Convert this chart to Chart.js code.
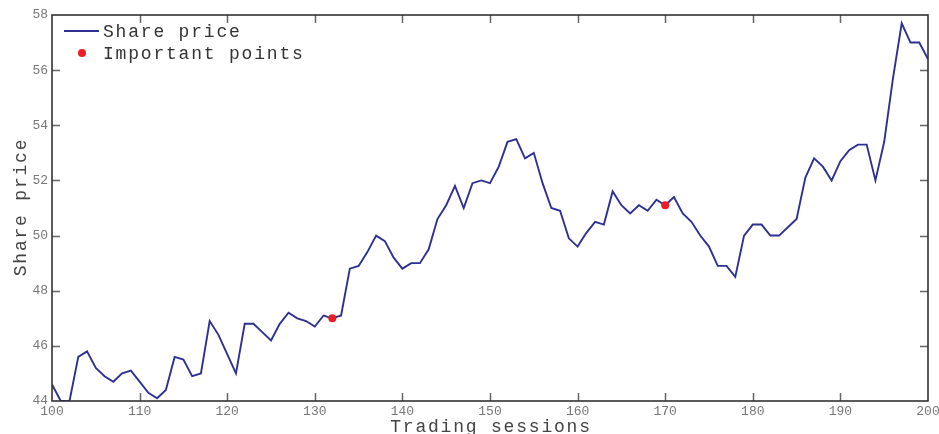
<!DOCTYPE html>
<html>
<head>
<meta charset="utf-8">
<script src="https://cdn.jsdelivr.net/npm/chart.js@4/dist/chart.umd.min.js"></script>
<style>
  html, body { margin: 0; padding: 0; background: #fff; }
  #wrap { width: 939px; height: 434px; overflow: hidden; }
  canvas { display: block; }
</style>
</head>
<body>
<div id="wrap"><canvas id="chart" width="939" height="434"></canvas></div>
<script>
// Trading session numbers and closing share prices
const sessions = [
  100, 101, 102, 103, 104, 105, 106, 107, 108, 109,
  110, 111, 112, 113, 114, 115, 116, 117, 118, 119,
  120, 121, 122, 123, 124, 125, 126, 127, 128, 129,
  130, 131, 132, 133, 134, 135, 136, 137, 138, 139,
  140, 141, 142, 143, 144, 145, 146, 147, 148, 149,
  150, 151, 152, 153, 154, 155, 156, 157, 158, 159,
  160, 161, 162, 163, 164, 165, 166, 167, 168, 169,
  170, 171, 172, 173, 174, 175, 176, 177, 178, 179,
  180, 181, 182, 183, 184, 185, 186, 187, 188, 189,
  190, 191, 192, 193, 194, 195, 196, 197, 198, 199,
  200
];
const prices = [
  44.6, 44.0, 44.0, 45.6, 45.8, 45.2, 44.9, 44.7, 45.0, 45.1,
  44.7, 44.3, 44.1, 44.4, 45.6, 45.5, 44.9, 45.0, 46.9, 46.4,
  45.7, 45.0, 46.8, 46.8, 46.5, 46.2, 46.8, 47.2, 47.0, 46.9,
  46.7, 47.1, 47.0, 47.1, 48.8, 48.9, 49.4, 50.0, 49.8, 49.2,
  48.8, 49.0, 49.0, 49.5, 50.6, 51.1, 51.8, 51.0, 51.9, 52.0,
  51.9, 52.5, 53.4, 53.5, 52.8, 53.0, 51.9, 51.0, 50.9, 49.9,
  49.6, 50.1, 50.5, 50.4, 51.6, 51.1, 50.8, 51.1, 50.9, 51.3,
  51.1, 51.4, 50.8, 50.5, 50.0, 49.6, 48.9, 48.9, 48.5, 50.0,
  50.4, 50.4, 50.0, 50.0, 50.3, 50.6, 52.1, 52.8, 52.5, 52.0,
  52.7, 53.1, 53.3, 53.3, 52.0, 53.4, 55.7, 57.7, 57.0, 57.0,
  56.4
];
// Sessions flagged as important, with their prices
const keySessions = [132, 170];
const keyPrices = [47.0, 51.1];

const xTicks = [100, 110, 120, 130, 140, 150, 160, 170, 180, 190, 200];
const yTicks = [44, 46, 48, 50, 52, 54, 56, 58];

const xTitle = 'Trading sessions';
const yTitle = 'Share price';

const LINE_COLOR = '#2e3192';
const DOT_COLOR = '#ee1c25';
const FONT = '"Liberation Mono", "DejaVu Sans Mono", monospace';
const TEXT_FONT = '18px ' + FONT;
const TEXT_SPACING = '1.8px';

// Box frame with inward tick marks on all four sides
const framePlugin = {
  id: 'frame',
  afterDraw(chart) {
    const { ctx, chartArea: a, scales: { x, y } } = chart;
    const len = 8;
    ctx.save();
    ctx.strokeStyle = '#666';
    ctx.lineWidth = 1.5;
    ctx.beginPath();
    xTicks.slice(1, -1).forEach(v => {
      const px = Math.round(x.getPixelForValue(v)) + 0.5;
      ctx.moveTo(px, a.bottom); ctx.lineTo(px, a.bottom - len);
      ctx.moveTo(px, a.top); ctx.lineTo(px, a.top + len);
    });
    yTicks.slice(1, -1).forEach(v => {
      const py = Math.round(y.getPixelForValue(v)) + 0.5;
      ctx.moveTo(a.left, py); ctx.lineTo(a.left + len, py);
      ctx.moveTo(a.right, py); ctx.lineTo(a.right - len, py);
    });
    ctx.stroke();
    ctx.strokeStyle = '#333';
    ctx.lineWidth = 1.6;
    ctx.strokeRect(a.left, a.top, a.right - a.left, a.bottom - a.top);
    ctx.restore();
  }
};

// Axis titles and the legend inside the top-left corner of the plot
const textPlugin = {
  id: 'texts',
  afterDraw(chart) {
    const { ctx, chartArea: a } = chart;
    ctx.save();
    ctx.font = TEXT_FONT;
    ctx.letterSpacing = TEXT_SPACING;
    ctx.textBaseline = 'alphabetic';

    // axis titles
    ctx.fillStyle = '#444';
    ctx.textAlign = 'center';
    ctx.fillText(xTitle, (a.left + a.right) / 2 + 1, a.bottom + 31);
    ctx.save();
    ctx.translate(a.left - 26, (a.top + a.bottom) / 2);
    ctx.rotate(-Math.PI / 2);
    ctx.fillText(yTitle, 1, 0);
    ctx.restore();

    // legend
    const x0 = a.left + 12, textX = a.left + 51;
    const row1 = a.top + 16, row2 = a.top + 38;
    ctx.strokeStyle = LINE_COLOR;
    ctx.lineWidth = 1.9;
    ctx.beginPath();
    ctx.moveTo(x0, row1); ctx.lineTo(x0 + 35, row1);
    ctx.stroke();
    ctx.fillStyle = DOT_COLOR;
    ctx.beginPath();
    ctx.arc(x0 + 18, row2, 4, 0, Math.PI * 2);
    ctx.fill();
    ctx.fillStyle = '#333';
    ctx.textAlign = 'left';
    ctx.fillText(chart.data.datasets[0].label, textX, row1 + 6);
    ctx.fillText(chart.data.datasets[1].label, textX, row2 + 6);
    ctx.restore();
  }
};

new Chart(document.getElementById('chart'), {
  type: 'line',
  data: {
    datasets: [
      {
        label: 'Share price',
        data: sessions.map((s, i) => ({ x: s, y: prices[i] })),
        borderColor: LINE_COLOR,
        borderWidth: 1.9,
        pointRadius: 0,
        tension: 0,
        order: 2
      },
      {
        label: 'Important points',
        data: keySessions.map((s, i) => ({ x: s, y: keyPrices[i] })),
        showLine: false,
        pointRadius: 4,
        pointBackgroundColor: DOT_COLOR,
        pointBorderWidth: 0,
        order: 1
      }
    ]
  },
  options: {
    responsive: false,
    animation: false,
    devicePixelRatio: 1,
    layout: { padding: { left: 0, top: 15, right: 11, bottom: 0 } },
    plugins: { legend: { display: false }, tooltip: { enabled: false } },
    scales: {
      x: {
        type: 'linear',
        min: 100,
        max: 200,
        afterBuildTicks: s => { s.ticks = xTicks.map(v => ({ value: v })); },
        afterFit: s => { s.height = 33; s.paddingLeft = 0; s.paddingRight = 0; },
        grid: { display: false, drawTicks: false },
        border: { display: false },
        ticks: {
          color: '#777',
          font: { family: FONT, size: 13 },
          padding: 3,
          maxRotation: 0,
          autoSkip: false
        }
      },
      y: {
        min: 44,
        max: 58,
        afterBuildTicks: s => { s.ticks = yTicks.map(v => ({ value: v })); },
        afterFit: s => { s.width = 52; s.paddingTop = 0; s.paddingBottom = 0; },
        grid: { display: false, drawTicks: false },
        border: { display: false },
        ticks: {
          color: '#777',
          font: { family: FONT, size: 13 },
          padding: 4
        }
      }
    }
  },
  plugins: [framePlugin, textPlugin]
});
</script>
</body>
</html>
